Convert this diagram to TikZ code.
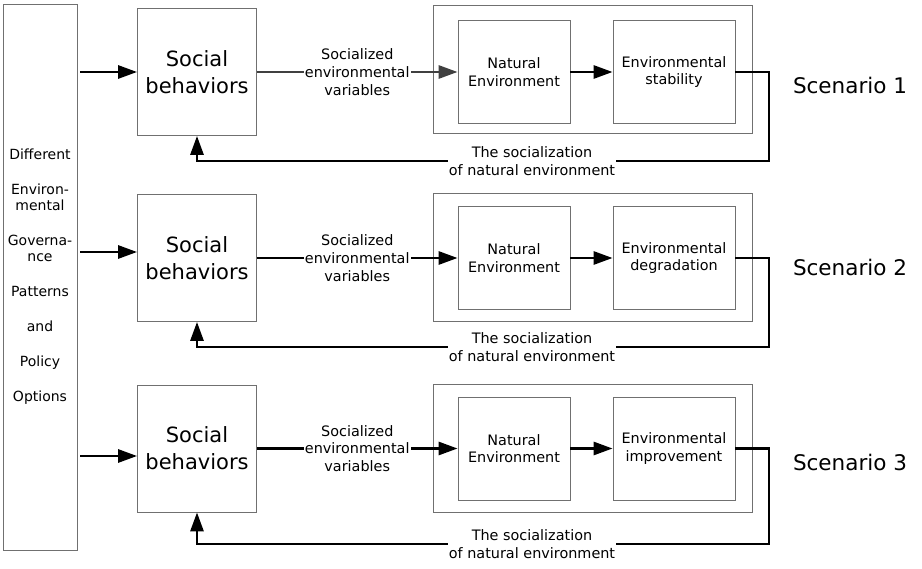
\documentclass[tikz,border=0pt]{standalone}
\usepackage{fontspec}
\setmainfont{DejaVu Sans}
\usetikzlibrary{arrows.meta}
\definecolor{boxgray}{RGB}{112,112,112}
\definecolor{darkline}{RGB}{64,64,64}
\tikzset{
  bx/.style={draw=boxgray, line width=0.8pt, fill=white, align=center, inner sep=0pt},
  arr/.style={line width=2.8pt, line join=miter, -{Triangle[length=19pt,width=13pt]}},
  lab/.style={fill=white, inner sep=1pt, align=center, font=\fontsize{14.4}{17.8}\selectfont},
  scen/.style={font=\fontsize{21.5}{25}\selectfont},
}
\begin{document}
\begin{tikzpicture}[x=1pt,y=-1pt]
\useasboundingbox (0,0) rectangle (922,569);
\node[bx, minimum width=74pt, minimum height=546pt, font=\fontsize{14}{16}\selectfont] (lb) at (40,277)
  {Different\\[19pt]Environ-\\mental\\[19pt]Governa-\\nce\\[19pt]Patterns\\[19pt]and\\[19pt]Policy\\[19pt]Options};
\foreach \i/\c/\oc/\l/\f/\s/\t/\col in {
  1/72/69/72/161/85/stability/darkline,
  2/258/257.5/252/347/267/degradation/black,
  3/448.5/448/456/544/462/improvement/black} {
  \node[bx, minimum width=119pt, minimum height=127pt, font=\fontsize{21}{27}\selectfont] (sb\i) at (197,\c) {Social\\behaviors};
  \node[bx, minimum width=319pt, minimum height=128pt] (ob\i) at (592.5,\oc) {};
  \node[bx, minimum width=112pt, minimum height=103pt, font=\fontsize{14.4}{17.5}\selectfont] (ne\i) at (514,\c) {Natural\\Environment};
  \node[bx, minimum width=122pt, minimum height=103pt, font=\fontsize{14.4}{17.5}\selectfont] (es\i) at (674,\c) {Environmental\\\t};
  \node[scen] (sc\i) at (850,\s) {Scenario \i};
  \coordinate (la\i) at (0,\l);
  \coordinate (fr\i) at (769,\f);
  \draw[arr, shorten <=3pt] (lb.east |- la\i) -- (sb\i.west |- la\i);
  \draw[arr, draw=\col, fill=\col] (sb\i.east) -- node[lab] {Socialized\\environmental\\variables} (ne\i.west);
  \draw[arr] (ne\i.east) -- (es\i.west);
  \draw[arr] (es\i.east) -| (fr\i) -| (sb\i.south);
  \node[lab] (fl\i) at (532,\f) {The socialization\\of natural environment};
}
\end{tikzpicture}
\end{document}
